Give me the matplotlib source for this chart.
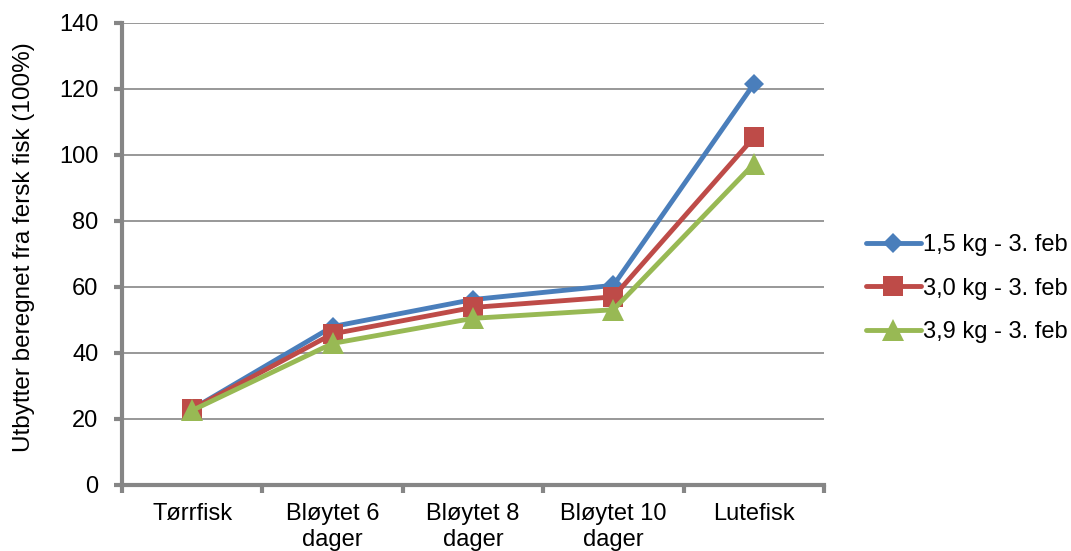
import matplotlib
matplotlib.use("Agg")
import matplotlib.pyplot as plt
import numpy as np

plt.rcParams['font.family'] = ['Liberation Sans', 'DejaVu Sans']

categories = ["Tørrfisk", "Bløytet 6\ndager", "Bløytet 8\ndager", "Bløytet 10\ndager", "Lutefisk"]
series_names = ["1,5 kg - 3. feb", "3,0 kg - 3. feb", "3,9 kg - 3. feb"]
s1 = [23.0, 48.0, 56.2, 60.5, 121.5]
s2 = [23.0, 45.8, 53.8, 57.0, 105.3]
s3 = [22.6, 42.9, 50.5, 53.1, 97.3]
yticks = [0, 20, 40, 60, 80, 100, 120, 140]

colors = ["#4A7EBB", "#BE4B48", "#98B954"]
markers = ["D", "s", "^"]
msizes = [10.5, 14.5, 15.5]

fig = plt.figure(figsize=(10.71, 5.51), dpi=100)
ax = fig.add_axes([0.1139, 0.1198, 0.6555, 0.8385])

x = np.arange(len(categories))
for vals, name, c, m, ms in zip([s1, s2, s3], series_names, colors, markers, msizes):
    ax.plot(x, vals, color=c, lw=3.5, marker=m, markersize=ms, label=name,
            markeredgewidth=0, solid_capstyle='round', zorder=3)

ax.set_xlim(-0.5, len(categories) - 0.5)
ax.set_ylim(0, 140)
ax.set_yticks(yticks)
ax.yaxis.grid(True, color="#868686", lw=1.2)
ax.set_axisbelow(True)

ax.set_xticks(np.arange(-0.5, len(categories), 1.0))
ax.set_xticklabels([])
ax.set_xticks(x, minor=True)
ax.set_xticklabels(categories, minor=True, fontsize=17, linespacing=1.22)
ax.tick_params(axis='x', which='minor', length=0, pad=13)
ax.tick_params(axis='x', which='major', length=6, width=3, color="#868686", direction='out')
ax.tick_params(axis='y', length=6, width=3, color="#868686", direction='out', labelsize=17, pad=11)

for side in ["top", "right"]:
    ax.spines[side].set_visible(False)
for side in ["left", "bottom"]:
    ax.spines[side].set_color("#868686")
    ax.spines[side].set_linewidth(3)

ax.set_ylabel("Utbytter beregnet fra fersk fisk (100%)", fontsize=17.5)
ax.yaxis.set_label_coords(-0.124, 0.515)

leg = ax.legend(loc="center left", bbox_to_anchor=(1.03, 0.425), frameon=False,
                fontsize=17, handlelength=2.3, handletextpad=0.1, labelspacing=0.9)

fig.savefig("out.png", dpi=100)
